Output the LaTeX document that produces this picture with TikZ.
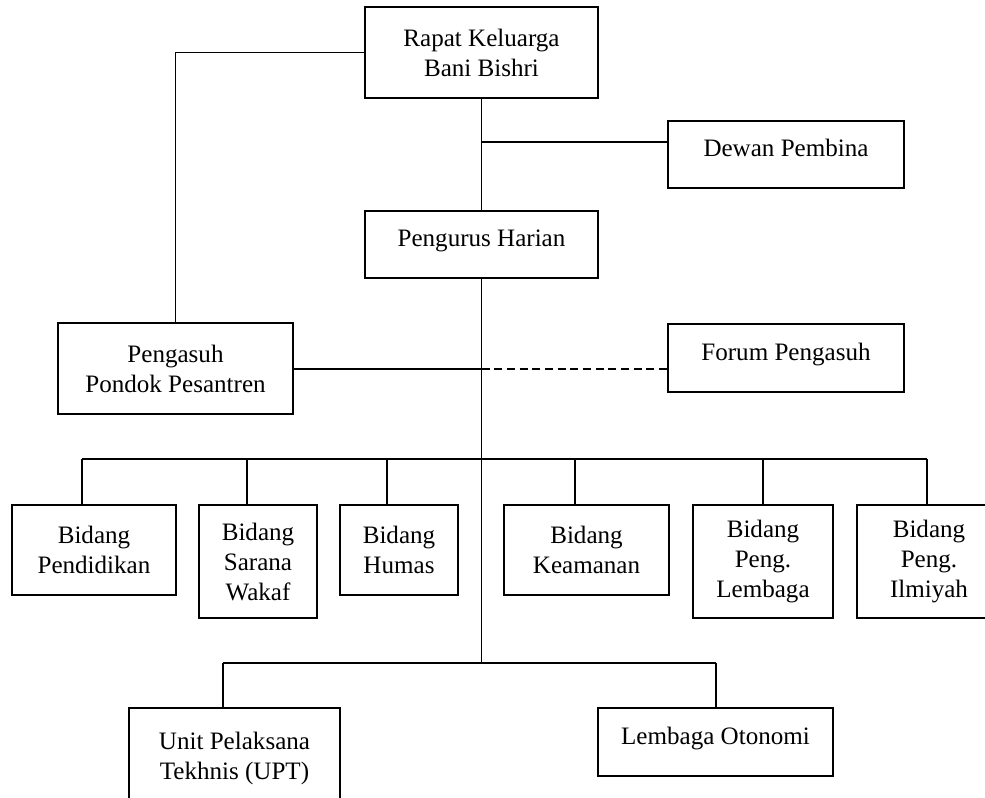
\documentclass[tikz,border=0pt]{standalone}
\usepackage{fontspec}
\setmainfont{Liberation Serif}
\begin{document}
\begin{tikzpicture}[x=0.75pt,y=-0.75pt,
  box/.style={draw, line width=1.2pt, inner sep=0pt, align=center,
    font=\fontsize{18.8}{22.5}\selectfont},
  oneline/.style={text depth=10pt},
  conn/.style={line width=1.2pt},
  dashconn/.style={line width=1.2pt, dash pattern=on 6pt off 3.5pt}]
\useasboundingbox (0,0) rectangle (985,797);
\fill[white] (0,0) rectangle (985,797);

% top level
\node[box, minimum width=233*0.75pt, minimum height=91*0.75pt] (rapat) at (481.5,52.5) {Rapat Keluarga\\Bani Bishri};
\node[box, oneline, minimum width=236*0.75pt, minimum height=67*0.75pt] (dewan) at (786,154.5) {Dewan Pembina};
\node[box, oneline, minimum width=233*0.75pt, minimum height=67*0.75pt] (pengurus) at (481.5,244.5) {Pengurus Harian};
\node[box, minimum width=235*0.75pt, minimum height=91*0.75pt] (pengasuh) at (175.5,368.5) {Pengasuh\\Pondok Pesantren};
\node[box, oneline, minimum width=236*0.75pt, minimum height=68*0.75pt] (forum) at (786,358) {Forum Pengasuh};

% bidang row
\node[box, minimum width=164*0.75pt, minimum height=90*0.75pt] (pend) at (94,550) {Bidang\\Pendidikan};
\node[box, minimum width=118*0.75pt, minimum height=113*0.75pt] (sarana) at (258,561.5) {Bidang\\Sarana\\Wakaf};
\node[box, minimum width=118*0.75pt, minimum height=90*0.75pt] (humas) at (399,550) {Bidang\\Humas};
\node[box, minimum width=165*0.75pt, minimum height=90*0.75pt] (keam) at (586.5,550) {Bidang\\Keamanan};
\node[box, minimum width=140*0.75pt, minimum height=113*0.75pt] (lemb) at (763,561.5) {Bidang\\Peng.\\Lembaga};
\node[box, minimum width=144*0.75pt, minimum height=113*0.75pt] (ilm) at (929,561.5) {Bidang\\Peng.\\Ilmiyah};

% bottom row
\node[box, minimum width=211*0.75pt, minimum height=100*0.75pt] (upt) at (234.5,758) {Unit Pelaksana\\Tekhnis (UPT)};
\node[box, oneline, minimum width=235*0.75pt, minimum height=68*0.75pt] (lemo) at (715.5,742) {Lembaga Otonomi};

% junction coordinates
\coordinate (jd) at (481.5,142);
\coordinate (jp) at (481.5,369);
\coordinate (jlow) at (481.5,663);
\coordinate (b1) at (82,459);
\coordinate (b2) at (247,459);
\coordinate (b3) at (387,459);
\coordinate (b4) at (575,459);
\coordinate (b5) at (763,459);
\coordinate (b6) at (927,459);
\coordinate (l1) at (223,663);
\coordinate (l2) at (716,663);

% connectors
\draw[conn] (rapat.west) -| (pengasuh.north);
\draw[conn] (rapat.south) -- (pengurus.north);
\draw[conn] (jd) -- (jd -| dewan.west);
\draw[conn] (pengurus.south) -- (jlow);
\draw[conn] (pengasuh.east |- jp) -- (jp);
\draw[dashconn] (jp) -- (jp -| forum.west);
\draw[conn] (b1) -- (b6);
\draw[conn] (b1) -- (b1 |- pend.north);
\draw[conn] (b2) -- (b2 |- sarana.north);
\draw[conn] (b3) -- (b3 |- humas.north);
\draw[conn] (b4) -- (b4 |- keam.north);
\draw[conn] (b5) -- (b5 |- lemb.north);
\draw[conn] (b6) -- (b6 |- ilm.north);
\draw[conn] (l1) -- (l2);
\draw[conn] (l1) -- (l1 |- upt.north);
\draw[conn] (l2) -- (l2 |- lemo.north);
\end{tikzpicture}
\end{document}
